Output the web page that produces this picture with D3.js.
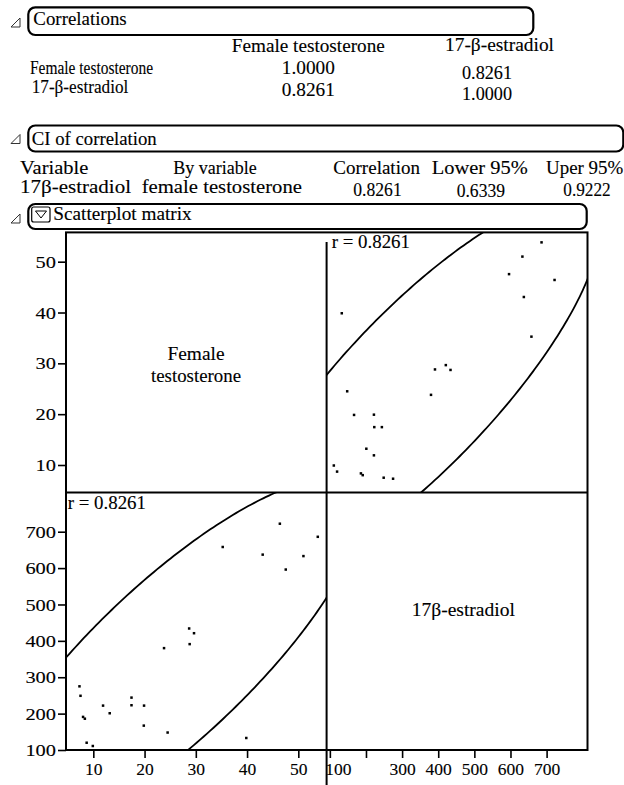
<!DOCTYPE html>
<html><head><meta charset="utf-8">
<script src="https://cdn.jsdelivr.net/npm/d3@7"></script>
<style>
body{margin:0;background:#fff}
svg text{font-family:"Liberation Serif","Times New Roman",serif;fill:#000;stroke:#000;stroke-width:0.12px}
</style>
</head><body>
<svg id="c" width="624" height="785"></svg>
<script>
// ---------- data ----------
const testosterone = [7.3, 7.5, 8.0, 8.35, 8.7, 9.9, 11.9, 13.2, 17.45, 17.45, 19.9, 19.85,
  24.5, 23.8, 28.7, 28.8, 29.65, 35.25, 39.85, 43.05, 46.4, 47.55, 51.0, 53.8];
const estradiol = [275, 249, 191, 186, 120, 111, 222, 201, 244, 223, 222, 167,
  148, 380, 434, 391, 421, 658, 133, 637, 722, 596, 633, 686];
const rLabel = "r = 0.8261";
const sectionTitles = ["Correlations", "CI of correlation", "Scatterplot matrix"];
const corrColumns = ["Female testosterone", "17-β-estradiol"];
const corrRows = ["Female testosterone", "17-β-estradiol"];
const corrValues = [["1.0000", "0.8261"], ["0.8261", "1.0000"]];
const ciHeaders = ["Variable", "By variable", "Correlation", "Lower 95%", "Uper 95%"];
const ciRow = ["17β-estradiol", "female testosterone", "0.8261", "0.6339", "0.9222"];
const diagLabels = [["Female", "testosterone"], ["17β-estradiol"]];
const testTicks = [10, 20, 30, 40, 50];
const estYTicks = [100, 200, 300, 400, 500, 600, 700];
const estXTicks = [100, 200, 300, 400, 500, 600, 700];
const estXHidden = [200];
const ellipseLevel = 0.95;

// ---------- helpers ----------
const svg = d3.select("#c");
function txt(s, x, y, o = {}) {
  const t = svg.append("text").attr("x", x).attr("y", y)
    .attr("font-size", o.size || 18)
    .attr("text-anchor", o.anchor || "start").text(s);
  if (o.len) t.attr("textLength", o.len).attr("lengthAdjust", "spacingAndGlyphs");
  return t;
}
function sectionBox(x0, x1, y0, y1, triY) {
  svg.append("rect").attr("x", x0).attr("y", y0).attr("width", x1 - x0).attr("height", y1 - y0)
    .attr("rx", 7).attr("ry", 7).attr("fill", "none").attr("stroke", "#000").attr("stroke-width", 2.2);
  svg.append("path").attr("d", `M11,${triY + 9} L20,${triY + 9} L20,${triY} Z`)
    .attr("fill", "none").attr("stroke", "#333").attr("stroke-width", 1);
}

// ---------- header: correlations ----------
sectionBox(28.3, 533.3, 7.3, 35, 18);
txt(sectionTitles[0], 33.3, 25, {len: 93.4});
txt(corrColumns[0], 308.3, 51.7, {anchor: "middle", len: 153});
txt(corrColumns[1], 499.5, 50.7, {anchor: "middle", len: 109});
txt(corrRows[0], 30, 74, {len: 123});
txt(corrRows[1], 31.7, 92.5, {len: 96.6});
txt(corrValues[0][0], 308.3, 74.3, {anchor: "middle", len: 53});
txt(corrValues[1][0], 308.3, 96, {anchor: "middle", len: 53});
txt(corrValues[0][1], 487, 79, {anchor: "middle", len: 50});
txt(corrValues[1][1], 487, 100, {anchor: "middle", len: 50});

// ---------- CI of correlation ----------
sectionBox(28.3, 623.3, 125.5, 151.5, 134.5);
txt(sectionTitles[1], 31.7, 145, {len: 125});
const ciHeadPos = [[20, 68.3], [173.3, 83.4], [333.3, 86.7], [431.7, 96], [546, 77.3]];
ciHeaders.forEach((h, i) => txt(h, ciHeadPos[i][0], 174.3, {len: ciHeadPos[i][1]}));
const ciRowPos = [[20, 111, 192.7], [141.7, 160.3, 192.7], [353.3, 48.4, 196], [456.7, 48.3, 197], [563.3, 47.4, 196]];
ciRow.forEach((v, i) => txt(v, ciRowPos[i][0], ciRowPos[i][2], {len: ciRowPos[i][1]}));

// ---------- scatterplot matrix header ----------
sectionBox(28.3, 586.7, 204, 229, 214);
svg.append("rect").attr("x", 31.7).attr("y", 207).attr("width", 18.3).attr("height", 15)
  .attr("rx", 2).attr("fill", "none").attr("stroke", "#000").attr("stroke-width", 1.2);
svg.append("path").attr("d", "M35.5,211 L46.5,211 L41,218 Z")
  .attr("fill", "none").attr("stroke", "#000").attr("stroke-width", 1);
txt(sectionTitles[2], 53.3, 220, {len: 138.4});

// ---------- matrix layout ----------
const L = 66, M = 326.6, R = 587.5, T = 232.4, H = 492.6, B = 750;
const tY = d3.scaleLinear().domain([4.57, 55.76]).range([H, T]);
const tX = d3.scaleLinear().domain([4.67, 55.52]).range([L, M]);
const eY = d3.scaleLinear().domain([100, 807.5]).range([B, H]);
const eX = d3.scaleLinear().domain([91, 813.2]).range([M, R]);

// clip paths
const defs = svg.append("defs");
defs.append("clipPath").attr("id", "clipUR").append("rect")
  .attr("x", M).attr("y", T).attr("width", R - M).attr("height", H - T);
defs.append("clipPath").attr("id", "clipLL").append("rect")
  .attr("x", L).attr("y", H).attr("width", M - L).attr("height", B - H);

// density ellipse from the data
const n = testosterone.length;
const mt = d3.mean(testosterone), me = d3.mean(estradiol);
const st = d3.deviation(testosterone), se = d3.deviation(estradiol);
let cov = 0;
for (let i = 0; i < n; i++) cov += (testosterone[i] - mt) * (estradiol[i] - me);
cov /= (n - 1);
const rr = cov / (st * se);
const cc = Math.sqrt(-2 * Math.log(1 - ellipseLevel));
const ell = d3.range(0, 361).map(a => {
  const th = a * Math.PI / 180;
  const z1 = cc * Math.cos(th);
  const z2 = cc * (rr * Math.cos(th) + Math.sqrt(1 - rr * rr) * Math.sin(th));
  return {t: mt + st * z1, e: me + se * z2};
});

// upper-right: x = estradiol, y = testosterone
const gUR = svg.append("g").attr("clip-path", "url(#clipUR)");
gUR.append("path").datum(ell)
  .attr("d", d3.line().x(d => eX(d.e)).y(d => tY(d.t)))
  .attr("fill", "none").attr("stroke", "#000").attr("stroke-width", 1.8);
gUR.selectAll("rect.pt").data(d3.range(n)).join("rect").attr("class", "pt")
  .attr("x", i => eX(estradiol[i]) - 1.25).attr("y", i => tY(testosterone[i]) - 1.25)
  .attr("width", 2.5).attr("height", 2.5).attr("fill", "#000");

// lower-left: x = testosterone, y = estradiol
const gLL = svg.append("g").attr("clip-path", "url(#clipLL)");
gLL.append("path").datum(ell)
  .attr("d", d3.line().x(d => tX(d.t)).y(d => eY(d.e)))
  .attr("fill", "none").attr("stroke", "#000").attr("stroke-width", 1.8);
gLL.selectAll("rect.pt").data(d3.range(n)).join("rect").attr("class", "pt")
  .attr("x", i => tX(testosterone[i]) - 1.25).attr("y", i => eY(estradiol[i]) - 1.25)
  .attr("width", 2.5).attr("height", 2.5).attr("fill", "#000");

// r labels
txt(rLabel, 331.7, 248.3, {len: 78.3});
txt(rLabel, 67.7, 509.3, {len: 78.3});

// diagonal labels
txt(diagLabels[0][0], 196, 360, {anchor: "middle", len: 57});
txt(diagLabels[0][1], 196, 381.7, {anchor: "middle", len: 90});
txt(diagLabels[1][0], 463.3, 616, {anchor: "middle", len: 103.3});

// frame
const fr = svg.append("g").attr("stroke", "#000").attr("stroke-width", 2).attr("fill", "none");
fr.append("rect").attr("x", L).attr("y", T).attr("width", R - L).attr("height", B - T);
fr.append("line").attr("x1", L).attr("x2", R).attr("y1", H).attr("y2", H);
fr.append("line").attr("x1", M).attr("x2", M).attr("y1", 242).attr("y2", 785);

// axes
function styleAxis(g, yAxis) {
  g.select(".domain").remove();
  g.selectAll(".tick line").attr("stroke", "#000").attr("stroke-width", 1.6);
  g.selectAll(".tick text").attr("font-family", "Liberation Serif").attr("font-size", 17.5).attr("fill", "#000");
  if (yAxis) g.selectAll(".tick text").each(function() {
    const s = d3.select(this).text();
    d3.select(this).attr("textLength", s.length * 10.2).attr("lengthAdjust", "spacingAndGlyphs");
  });
}
const axTY = svg.append("g").attr("transform", `translate(${L},0)`)
  .call(d3.axisLeft(tY).tickValues(testTicks).tickSize(8).tickPadding(2));
styleAxis(axTY, true);
const axEY = svg.append("g").attr("transform", `translate(${L},0)`)
  .call(d3.axisLeft(eY).tickValues(estYTicks).tickSize(8).tickPadding(2));
styleAxis(axEY, true);
const axTX = svg.append("g").attr("transform", `translate(0,${B})`)
  .call(d3.axisBottom(tX).tickValues(testTicks).tickSize(8).tickPadding(5));
styleAxis(axTX, false);
const axEX = svg.append("g").attr("transform", `translate(0,${B})`)
  .call(d3.axisBottom(eX).tickValues(estXTicks).tickSize(8).tickPadding(5)
    .tickFormat(d => estXHidden.includes(d) ? "" : d));
styleAxis(axEX, false);
axEX.selectAll(".tick").filter(d => d === estXTicks[0]).select("text").attr("x", 8);
</script>
</body></html>
